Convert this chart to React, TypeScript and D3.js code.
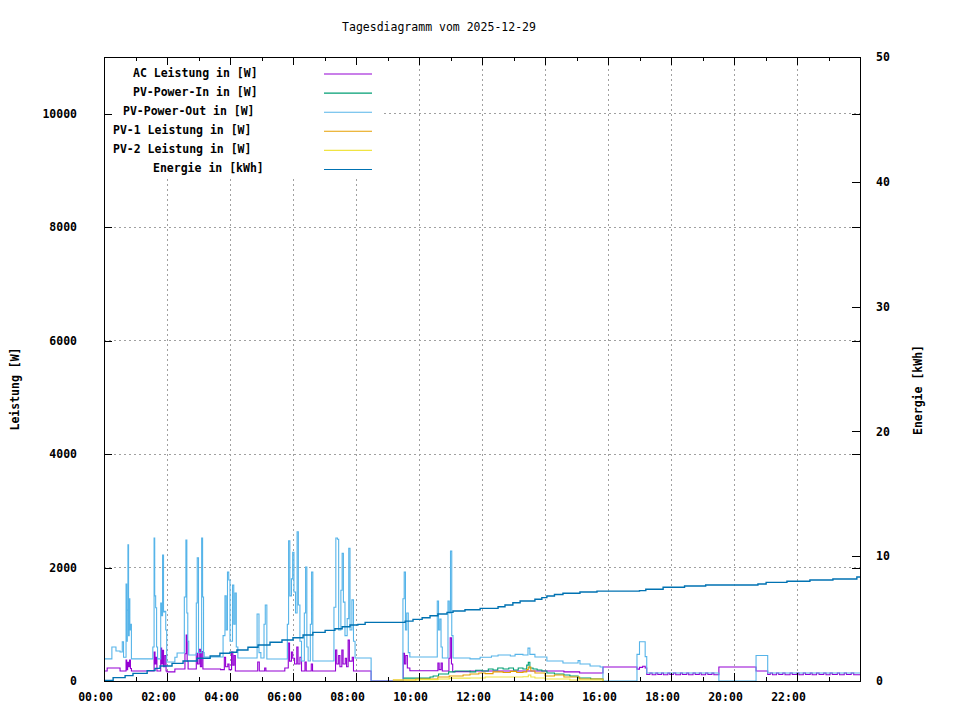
import * as d3 from 'd3';
import { useEffect, useRef } from 'react';

type Pt = [number, number];

const title = 'Tagesdiagramm vom 2025-12-29';
const seriesNames = ['AC Leistung in [W]', 'PV-Power-In in [W]', 'PV-Power-Out in [W]', 'PV-1 Leistung in [W]', 'PV-2 Leistung in [W]', 'Energie in [kWh]'];
const seriesColors = ['#9400d3', '#009e73', '#56b4e9', '#e69f00', '#f0e442', '#0072b2'];

const hourTicks = [0, 2, 4, 6, 8, 10, 12, 14, 16, 18, 20, 22];
const hourLabels = ['00:00', '02:00', '04:00', '06:00', '08:00', '10:00', '12:00', '14:00', '16:00', '18:00', '20:00', '22:00'];
const minorHourTicks = [1, 3, 5, 7, 9, 11, 13, 15, 17, 19, 21, 23];
const powerTicks = [0, 2000, 4000, 6000, 8000, 10000];
const energyTicks = [0, 10, 20, 30, 40, 50];

// [hour, W]
const acPower: Pt[] = [
  [0.00, 176], [0.10, 230], [0.51, 176],
  [0.70, 370], [0.72, 200], [0.75, 330], [0.78, 250], [0.81, 370], [0.84, 220], [0.87, 176],
  [1.59, 510], [1.62, 300], [1.65, 420], [1.68, 176],
  [1.80, 580], [1.83, 300], [1.86, 540], [1.89, 250], [1.93, 450], [1.97, 176],
  [2.00, 160], [2.25, 211],
  [2.57, 480], [2.61, 810], [2.64, 350], [2.67, 211],
  [2.93, 490], [2.97, 300], [3.02, 560], [3.06, 250], [3.10, 520], [3.14, 211],
  [3.70, 200],
  [3.82, 420], [3.86, 250], [3.93, 300], [3.97, 200], [4.05, 510], [4.09, 280], [4.13, 450], [4.17, 176],
  [4.88, 335], [4.93, 176], [5.10, 230], [5.14, 176],
  [5.74, 230],
  [5.85, 670], [5.89, 350], [5.95, 510], [5.99, 400], [6.05, 300], [6.12, 600], [6.16, 300], [6.22, 420], [6.27, 176],
  [6.38, 335], [6.42, 176], [6.58, 300], [6.62, 176],
  [7.35, 546], [7.39, 300], [7.45, 450], [7.49, 250], [7.55, 546], [7.59, 300], [7.66, 400], [7.70, 250], [7.75, 720], [7.79, 350], [7.88, 420], [7.92, 176],
  [8.48, 0],
  [9.50, 490], [9.54, 300], [9.58, 450], [9.63, 230], [9.71, 182],
  [10.60, 317], [10.64, 200], [10.70, 317], [10.74, 176],
  [10.95, 400], [10.99, 760], [11.03, 300], [11.07, 165],
  [11.62, 176], [14.60, 160], [15.10, 140], [15.84, 247],
  [16.92, 210], [17.00, 240], [17.10, 260], [17.18, 230],
  [17.23, 115], [17.33, 140], [17.40, 110], [17.52, 140], [17.58, 115], [17.70, 140], [17.76, 110], [17.90, 140],
  [17.96, 115], [18.08, 140], [18.15, 110], [18.30, 140], [18.36, 115], [18.50, 140], [18.56, 110], [18.70, 140],
  [18.77, 115], [18.90, 140], [18.96, 110], [19.10, 140], [19.17, 115], [19.30, 140], [19.36, 110],
  [19.52, 247], [20.70, 176],
  [21.07, 115], [21.15, 140], [21.22, 110], [21.35, 140], [21.42, 115], [21.55, 140], [21.62, 110], [21.78, 140],
  [21.85, 115], [22.00, 140], [22.06, 110], [22.20, 140], [22.27, 115], [22.42, 140], [22.48, 110], [22.62, 140],
  [22.70, 115], [22.85, 140], [22.92, 110], [23.05, 140], [23.12, 115], [23.28, 140], [23.35, 110], [23.50, 140],
  [23.57, 115], [23.72, 140], [23.80, 110], [24.00, 110],
];

const pvIn: Pt[] = [
  [9.49, 50], [10.35, 70], [10.45, 88], [10.62, 123], [10.94, 160], [11.14, 176], [11.62, 160], [11.80, 190],
  [12.00, 176], [12.20, 212], [12.35, 194], [12.50, 230], [12.67, 212], [12.85, 230], [13.00, 194], [13.15, 230],
  [13.30, 212], [13.42, 280], [13.47, 330], [13.52, 230], [13.62, 212], [13.75, 194], [13.90, 176], [14.06, 140],
  [14.30, 123], [14.60, 106], [14.79, 88], [15.05, 53], [15.45, 35], [15.84, 0],
];

const pvOut: Pt[] = [
  [0.00, 390], [0.25, 600], [0.38, 530], [0.51, 510],
  [0.58, 690], [0.62, 420],
  [0.70, 1710], [0.72, 700], [0.74, 1250], [0.76, 2400], [0.78, 800], [0.80, 1450], [0.82, 900], [0.84, 1000], [0.87, 390],
  [1.55, 600], [1.59, 2520], [1.61, 1500], [1.64, 1290], [1.67, 600], [1.70, 390],
  [1.80, 1375], [1.83, 1150], [1.86, 2220], [1.89, 1216], [1.92, 1230], [1.96, 900], [1.99, 335],
  [2.25, 420], [2.32, 494],
  [2.55, 1480], [2.60, 2485], [2.63, 1200], [2.66, 700], [2.69, 458],
  [2.93, 1375], [2.96, 2170], [3.00, 500], [3.10, 2520], [3.13, 1480], [3.16, 500], [3.18, 423],
  [3.78, 800], [3.84, 1500], [3.88, 900], [3.92, 1920], [3.96, 1780], [4.00, 700], [4.08, 1690], [4.12, 1000], [4.16, 1550], [4.20, 600], [4.25, 405],
  [4.86, 1180], [4.92, 500], [4.98, 405], [5.08, 1000], [5.12, 1340], [5.17, 388],
  [5.82, 1000], [5.86, 2470], [5.90, 1500], [5.95, 1800], [5.99, 2270], [6.03, 1570], [6.08, 1200], [6.13, 2630], [6.17, 1340], [6.22, 700], [6.27, 352],
  [6.36, 1200], [6.40, 2010], [6.44, 600], [6.48, 352], [6.55, 1000], [6.59, 1920], [6.63, 352],
  [7.30, 1300], [7.36, 2520], [7.41, 2500], [7.45, 900], [7.52, 1600], [7.56, 2250], [7.60, 1390], [7.65, 800], [7.72, 1100], [7.77, 2340], [7.81, 900], [7.87, 1430], [7.92, 700], [7.97, 405],
  [8.48, 0],
  [9.49, 1450], [9.53, 1920], [9.57, 900], [9.61, 1200], [9.66, 500], [9.71, 423],
  [10.58, 1410], [10.62, 900], [10.66, 1090], [10.70, 600], [10.74, 405],
  [10.92, 1410], [10.96, 1200], [11.00, 2290], [11.04, 800], [11.08, 405],
  [11.62, 390], [11.94, 420], [12.30, 440], [12.51, 458], [12.90, 440], [13.05, 470], [13.30, 458], [13.46, 580], [13.52, 470],
  [13.68, 423], [14.06, 352], [14.57, 317], [15.05, 360], [15.11, 300], [15.43, 264], [15.75, 247], [15.84, 0],
  [16.92, 470], [17.00, 693], [17.18, 430], [17.23, 140],
  [19.52, 0], [20.70, 450], [21.07, 140], [24.00, 140],
];

const pv1: Pt[] = [
  [9.17, 18], [9.90, 35], [10.60, 70], [10.96, 88], [11.40, 106], [11.62, 123], [11.90, 140], [12.10, 130],
  [12.35, 160], [12.67, 150], [12.90, 170], [13.10, 150], [13.30, 160], [13.42, 200], [13.47, 247], [13.55, 176],
  [13.68, 140], [14.00, 88], [14.30, 106], [14.60, 70], [15.10, 35], [15.84, 0],
];

const pv2: Pt[] = [
  [9.17, 18], [10.00, 25], [10.60, 35], [10.96, 50], [11.62, 53], [12.10, 70], [12.67, 70], [13.30, 76],
  [13.47, 106], [13.55, 70], [13.68, 53], [14.00, 35], [14.79, 18], [15.84, 0],
];

// [hour, kWh]
const energy: Pt[] = [
  [0.00, 0.05], [0.29, 0.27], [0.67, 0.43], [0.92, 0.61], [1.37, 0.83], [1.62, 1.01], [1.78, 1.20], [2.16, 1.41],
  [2.51, 1.60], [2.95, 1.82], [3.37, 2.00], [3.68, 2.22], [4.00, 2.30], [4.22, 2.48], [4.57, 2.70], [4.89, 2.88],
  [5.27, 3.10], [5.65, 3.29], [6.00, 3.47], [6.32, 3.69], [6.63, 3.90], [7.02, 4.06], [7.33, 4.19], [7.56, 4.35],
  [7.81, 4.49], [8.06, 4.54], [8.29, 4.70], [9.56, 4.80], [9.81, 4.94], [10.10, 5.07], [10.35, 5.23], [10.60, 5.37],
  [10.89, 5.50], [11.08, 5.61], [11.46, 5.71], [11.94, 5.82], [12.51, 5.95], [12.73, 6.09], [12.98, 6.27], [13.21, 6.41],
  [13.68, 6.55], [13.90, 6.68], [14.06, 6.81], [14.30, 6.93], [14.57, 7.03], [15.11, 7.13], [15.65, 7.20], [17.00, 7.24],
  [17.20, 7.35], [17.75, 7.51], [18.43, 7.61], [19.10, 7.69], [20.76, 7.77], [21.02, 7.90], [21.68, 7.99], [22.41, 8.09],
  [23.14, 8.17], [23.90, 8.33], [24.00, 8.33],
];

const FONT = '"DejaVu Sans Mono", "Liberation Mono", monospace';

export default function App() {
  const ref = useRef<SVGSVGElement | null>(null);

  useEffect(() => {
    if (!ref.current) return;
    const left = 104, right = 860, top = 57, bottom = 681;

    const svg = d3.select(ref.current);
    svg.selectAll('*').remove();

    const x = d3.scaleLinear().domain([0, 24]).range([left, right]);
    const yL = d3.scaleLinear().domain([0, 11000]).range([bottom, top]);
    const yR = d3.scaleLinear().domain([0, 50]).range([bottom, top]);

    svg.append('rect').attr('width', 960).attr('height', 720).attr('fill', '#fff');

    // grid
    const grid = svg.append('g')
      .attr('stroke', '#a0a0a0')
      .attr('stroke-dasharray', '2,3')
      .attr('shape-rendering', 'crispEdges');
    grid.selectAll('line.v')
      .data(hourTicks.filter(h => h > 0))
      .join('line')
      .attr('x1', d => x(d)).attr('x2', d => x(d))
      .attr('y1', bottom).attr('y2', top);
    grid.selectAll('line.h')
      .data(powerTicks.filter(p => p > 0))
      .join('line')
      .attr('class', 'h')
      .attr('x1', left).attr('x2', right)
      .attr('y1', d => yL(d)).attr('y2', d => yL(d));

    // series, in gnuplot drawing order
    const powerLine = d3.line<Pt>().x(d => x(d[0])).y(d => yL(d[1])).curve(d3.curveStepAfter);
    const energyLine = d3.line<Pt>().x(d => x(d[0])).y(d => yR(d[1])).curve(d3.curveStepAfter);
    const powerSeries = [acPower, pvIn, pvOut, pv1, pv2];
    powerSeries.forEach((s, i) => {
      svg.append('path')
        .attr('fill', 'none')
        .attr('stroke', seriesColors[i])
        .attr('stroke-width', 1.1)
        .attr('d', powerLine(s) as string);
    });
    svg.append('path')
      .attr('fill', 'none')
      .attr('stroke', seriesColors[5])
      .attr('stroke-width', 1.4)
      .attr('d', energyLine(energy) as string);

    // legend with opaque box
    const legend = svg.append('g');
    legend.append('rect')
      .attr('x', left + 0.5).attr('y', top + 0.5)
      .attr('width', 277).attr('height', 121)
      .attr('fill', '#fff');
    seriesNames.forEach((name, i) => {
      const rowY = 74 + i * 19.1;
      legend.append('text')
        .attr('x', 313 - 10 * name.length)
        .attr('y', rowY + 2.5)
        .attr('font-family', FONT)
        .attr('font-weight', 'bold')
        .attr('font-size', 11.5)
        .attr('fill', '#000')
        .text(name);
      legend.append('line')
        .attr('x1', 324).attr('x2', 372)
        .attr('y1', rowY).attr('y2', rowY)
        .attr('stroke', seriesColors[i])
        .attr('stroke-width', 1.1);
    });

    // axes (ticks inward like gnuplot)
    const styleAxis = (g: d3.Selection<SVGGElement, unknown, null, undefined>) => {
      g.select('.domain').remove();
      g.attr('font-family', FONT).attr('font-size', 11.5).attr('font-weight', 'bold');
      g.selectAll('line').attr('stroke', '#000').attr('shape-rendering', 'crispEdges');
      g.selectAll('text').attr('fill', '#000');
    };

    svg.append('g')
      .attr('transform', `translate(0,${bottom})`)
      .call(d3.axisBottom(x).tickValues(hourTicks).tickSize(-8).tickPadding(12)
        .tickFormat((_d, i) => hourLabels[i]))
      .call(styleAxis)
      .selectAll('text').attr('dx', -9);
    svg.append('g')
      .attr('transform', `translate(0,${bottom})`)
      .call(d3.axisBottom(x).tickValues(minorHourTicks).tickSize(-4).tickFormat(() => ''))
      .call(styleAxis);
    svg.append('g')
      .attr('transform', `translate(0,${top})`)
      .call(d3.axisTop(x).tickValues(hourTicks).tickSize(-8).tickFormat(() => ''))
      .call(styleAxis);
    svg.append('g')
      .attr('transform', `translate(0,${top})`)
      .call(d3.axisTop(x).tickValues(minorHourTicks).tickSize(-4).tickFormat(() => ''))
      .call(styleAxis);
    svg.append('g')
      .attr('transform', `translate(${left},0)`)
      .call(d3.axisLeft(yL).tickValues(powerTicks).tickSize(-8).tickPadding(27).tickFormat(d3.format('d')))
      .call(styleAxis);
    svg.append('g')
      .attr('transform', `translate(${right},0)`)
      .call(d3.axisRight(yL).tickValues(powerTicks).tickSize(-8).tickFormat(() => ''))
      .call(styleAxis);
    svg.append('g')
      .attr('transform', `translate(${right},0)`)
      .call(d3.axisRight(yR).tickValues(energyTicks).tickSize(-8).tickPadding(16).tickFormat(d3.format('d')))
      .call(styleAxis);

    // border
    svg.append('rect')
      .attr('x', left).attr('y', top)
      .attr('width', right - left).attr('height', bottom - top)
      .attr('fill', 'none')
      .attr('stroke', '#000')
      .attr('stroke-width', 1)
      .attr('shape-rendering', 'crispEdges');

    // titles
    svg.append('text')
      .attr('x', 439).attr('y', 31)
      .attr('text-anchor', 'middle')
      .attr('font-family', FONT)
      .attr('font-size', 11.5)
      .attr('fill', '#000')
      .text(title);
    svg.append('text')
      .attr('transform', 'translate(19,389) rotate(-90)')
      .attr('text-anchor', 'middle')
      .attr('font-family', FONT)
      .attr('font-weight', 'bold')
      .attr('font-size', 11.5)
      .attr('fill', '#000')
      .text('Leistung [W]');
    svg.append('text')
      .attr('transform', 'translate(922,390) rotate(-90)')
      .attr('text-anchor', 'middle')
      .attr('font-family', FONT)
      .attr('font-weight', 'bold')
      .attr('font-size', 11.5)
      .attr('fill', '#000')
      .text('Energie [kWh]');
  }, []);

  return (
    <svg
      ref={ref}
      width={960}
      height={720}
      style={{ position: 'absolute', left: 0, top: 0, display: 'block' }}
    />
  );
}
